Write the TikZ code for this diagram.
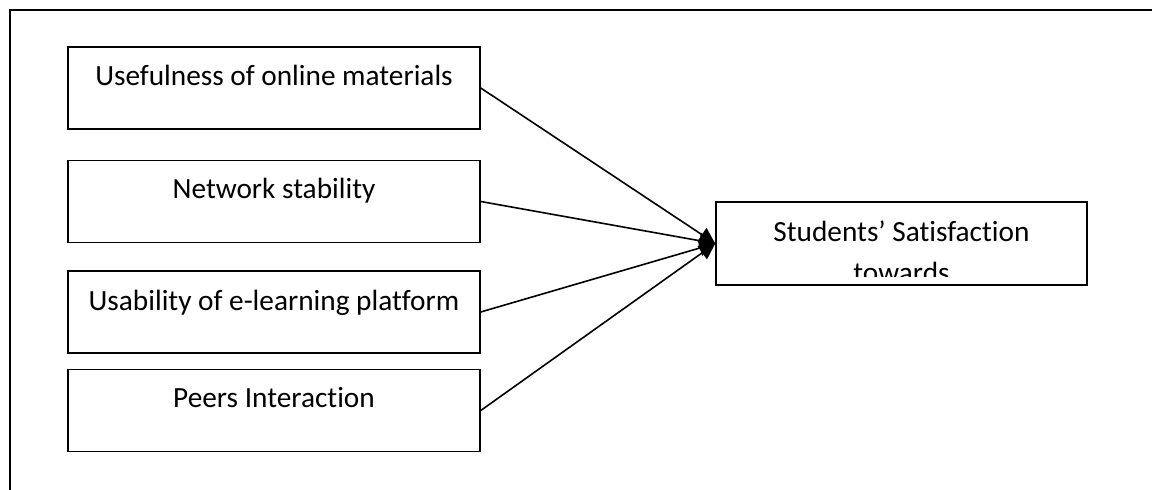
\documentclass[tikz,border=0pt]{standalone}
\usepackage{fontspec}
\setmainfont[Ligatures={NoCommon}]{Carlito}
\usetikzlibrary{arrows.meta}
\begin{document}
\begin{tikzpicture}[x=1pt,y=-1pt,
  inbox/.style={draw=black,line width=1.5pt,minimum width=412pt,minimum height=82pt,inner sep=0pt,anchor=center},
  outbox/.style={draw=black,line width=1.5pt,minimum width=371pt,minimum height=83pt,inner sep=0pt,anchor=center},
  lbl/.style={anchor=base,inner sep=0pt,font=\fontsize{29.3}{35}\selectfont},
  conn/.style={line width=1.6pt,-{Triangle[length=16pt,width=16pt]}},
  frame/.style={line width=1.7pt}]
\useasboundingbox (0,0) rectangle (1152,490);
% outer frame (cut on the right and at the bottom)
\coordinate (fa) at (10,490);
\coordinate (fb) at (10,10);
\coordinate (fc) at (1152,10);
\draw[frame] (fa) -- (fb) -- (fc);
% input boxes
\node[inbox] (b1) at (274,88) {};
\node[inbox] (b2) at (274,201.5) {};
\node[inbox] (b3) at (274,312) {};
\node[inbox] (b4) at (274,410.5) {};
\node[lbl] (t1) at (274,85) {Usefulness of online materials};
\node[lbl] (t2) at (274,198) {Network stability};
\node[lbl] (t3) at (274,310) {Usability of e-learning platform};
\node[lbl] (t4) at (274,407) {Peers Interaction};
% outcome box
\node[outbox] (s) at (901.5,243.5) {};
\begin{scope}
  \clip (716,202) rectangle (1087,276.5);
  \node[lbl] (s1) at (901.5,241) {Students’ Satisfaction};
  \node[lbl] (s2) at (901.5,282) {towards};
\end{scope}
% connectors
\draw[conn] (b1.east) -- (s.west);
\draw[conn] (b2.east) -- (s.west);
\draw[conn] (b3.east) -- (s.west);
\draw[conn] (b4.east) -- (s.west);
\end{tikzpicture}
\end{document}
